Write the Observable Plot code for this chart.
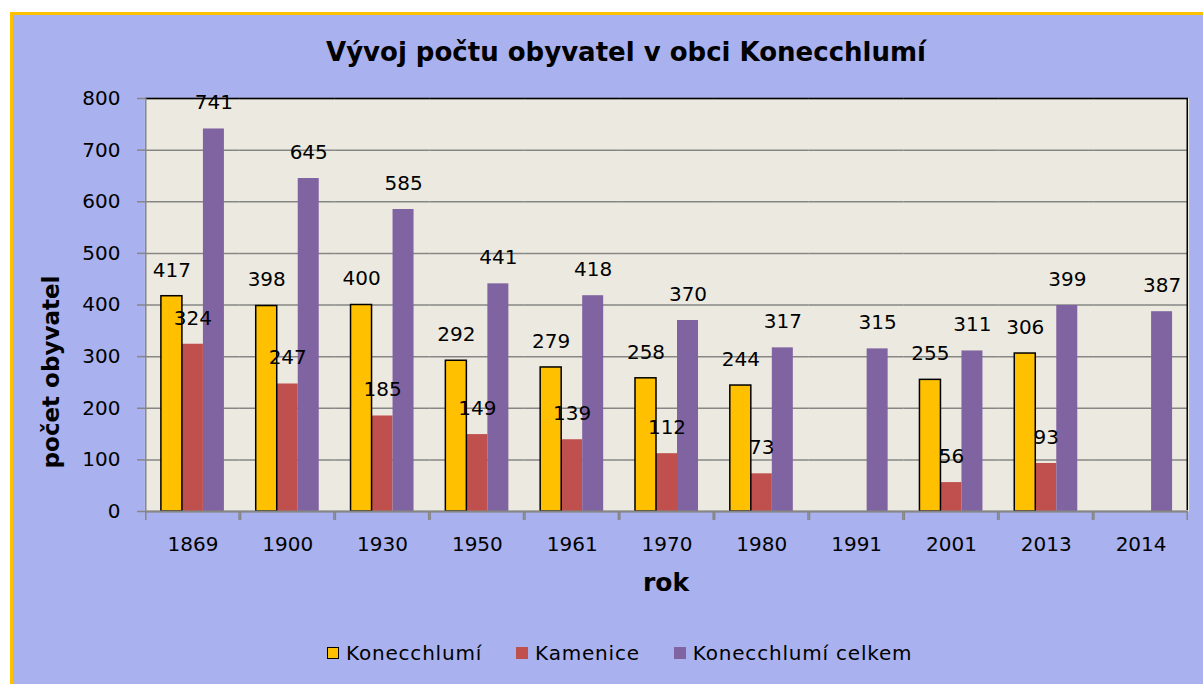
<!DOCTYPE html>
<html><head><meta charset="utf-8">
<script src="https://cdn.jsdelivr.net/npm/d3@7"></script>
<script src="https://cdn.jsdelivr.net/npm/@observablehq/plot@0.6"></script>
<style>
body{margin:0;background:#fff;font-family:"DejaVu Sans",sans-serif;}
#chart{position:absolute;left:10px;top:12px;width:1193px;height:672px;background:#a9b2ef;border-left:3px solid #ffc000;border-top:3px solid #ffc000;box-sizing:border-box;}
#title{position:absolute;left:113px;width:1000px;top:21px;height:32px;line-height:32px;text-align:center;font-size:26px;font-weight:bold;color:#000;}
#plot{position:absolute;left:0;top:55px;}
#ylabel{position:absolute;left:-112px;top:342px;width:300px;height:30px;line-height:30px;text-align:center;font-size:23px;font-weight:bold;transform:rotate(-90deg);}
#xlabel{position:absolute;left:553px;top:553px;width:200px;height:30px;line-height:30px;text-align:center;font-size:25px;font-weight:bold;}
#legend{position:absolute;left:314px;top:626px;height:24px;display:flex;align-items:center;font-size:20px;letter-spacing:0.8px;color:#000;}
#legend .item{display:flex;align-items:center;margin-right:34px;}
#legend .sw{width:12px;height:12px;margin-right:7px;box-sizing:border-box;}
</style></head>
<body>
<div id="chart">
  <div id="title">Vývoj počtu obyvatel v obci Konecchlumí</div>
  <div id="ylabel">počet obyvatel</div>
  <div id="plot"></div>
  <div id="xlabel">rok</div>
  <div id="legend"></div>
</div>
<script>
const years = ["1869","1900","1930","1950","1961","1970","1980","1991","2001","2013","2014"];
const seriesNames = ["Konecchlumí","Kamenice","Konecchlumí celkem"];
const konecchlumi = [417,398,400,292,279,258,244,null,255,306,null];
const kamenice = [324,247,185,149,139,112,73,null,56,93,null];
const celkem = [741,645,585,441,418,370,317,315,311,399,387];
const yTicks = [0,100,200,300,400,500,600,700,800];
const colors = ["#ffc000","#c0504d","#8064a2"];

const seriesArrays = [konecchlumi, kamenice, celkem];
const data = [];
years.forEach((yr, i) => {
  seriesArrays.forEach((arr, j) => {
    if (arr[i] != null) data.push({year: yr, series: seriesNames[j], value: arr[i]});
  });
});

const W = 1190, H = 540, mL = 132, mR = 15, mT = 28, mB = 99;
const facetW = (W - mL - mR) / years.length;
const plotH = H - mT - mB;
const grey = "#868686";

const chart = Plot.plot({
  width: W, height: H,
  marginLeft: mL, marginRight: mR, marginTop: mT, marginBottom: mB,
  style: {background: "transparent", fontFamily: "DejaVu Sans", overflow: "visible", color: "black"},
  fx: {domain: years, padding: 0, round: false, label: null},
  x: {domain: seriesNames, paddingInner: 0, paddingOuter: 0.757, round: false, axis: null},
  y: {domain: [0, 800], label: null},
  color: {domain: seriesNames, range: colors},
  marks: [
    Plot.frame({fill: "#eceae0", stroke: "none", insetLeft: -0.6, insetRight: -0.6}),
    Plot.gridY(yTicks, {stroke: grey, strokeOpacity: 1, strokeWidth: 1.5}),
    Plot.ruleY([800], {stroke: "black", strokeWidth: 1.5}),
    Plot.barY(data, {fx: "year", x: "series", y: "value", fill: "series"}),
    Plot.barY(data.filter(d => d.series === seriesNames[0]), {fx: "year", x: "series", y: "value", fill: "none", stroke: "black", strokeWidth: 1.5}),
    Plot.ruleY([0], {stroke: grey, strokeWidth: 2}),
    Plot.rect([0], {fill: grey, insetRight: facetW - 1.5, insetTop: plotH, insetBottom: -9}),
    Plot.rect([0], {fill: grey, insetLeft: facetW - 1.5, insetTop: plotH, insetBottom: -9}),
    Plot.rect([years[0]], {fx: d => d, fill: grey, insetRight: facetW - 1.5}),
    Plot.rect([years[years.length - 1]], {fx: d => d, fill: "black", insetLeft: facetW - 1.5, insetBottom: 1}),
    Plot.text(data, {fx: "year", x: "series", y: "value", text: d => String(d.value), dy: -26, lineAnchor: "middle", fontSize: 20, fill: "black"}),
    Plot.axisY(yTicks, {tickSize: 8, tickPadding: 17, fontSize: 20, stroke: grey, strokeWidth: 1.5, fill: "black", label: null}),
    Plot.axisFx({anchor: "bottom", tickSize: 0, tickPadding: 25, fontSize: 20, fill: "black", label: null})
  ]
});
document.getElementById("plot").appendChild(chart);

const legend = document.getElementById("legend");
seriesNames.forEach((name, i) => {
  const item = document.createElement("div");
  item.className = "item";
  const sw = document.createElement("div");
  sw.className = "sw";
  sw.style.background = colors[i];
  if (i === 0) sw.style.border = "1.5px solid #000";
  const label = document.createElement("span");
  label.textContent = name;
  item.appendChild(sw);
  item.appendChild(label);
  legend.appendChild(item);
});
</script>
</body></html>
